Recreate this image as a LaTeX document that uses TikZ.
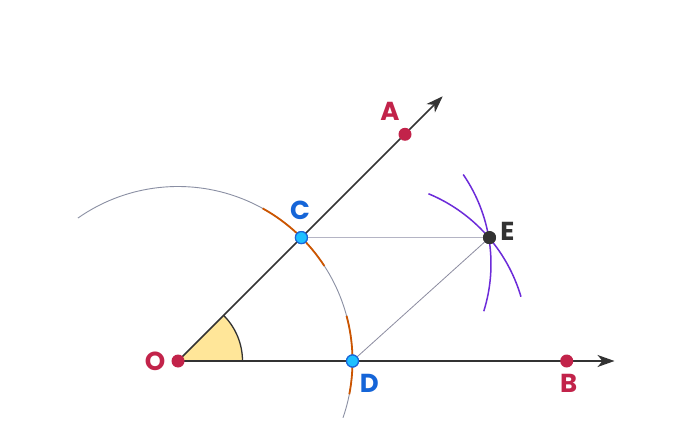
\documentclass[tikz,border=0pt]{standalone}
\usepackage{fontspec}
\newfontfamily\labfont{Poppins}
\usetikzlibrary{arrows.meta}
\definecolor{crim}{HTML}{C2234A}
\definecolor{lblue}{HTML}{1565D8}
\definecolor{cyanf}{HTML}{1EC0FF}
\definecolor{cyand}{HTML}{1A66D9}
\definecolor{dark}{HTML}{333333}
\definecolor{orng}{HTML}{CC5500}
\definecolor{garc}{HTML}{8A8FA3}
\definecolor{gline}{HTML}{B4B4C4}
\definecolor{gline2}{HTML}{8C8CA0}
\definecolor{purp}{HTML}{6C2BD9}
\definecolor{yel}{HTML}{FFE699}
\tikzset{
  reddot/.style={circle,fill=crim,inner sep=0pt,minimum size=13pt},
  bluedot/.style={circle,fill=cyanf,draw=cyand,line width=1.2pt,inner sep=0pt,minimum size=12pt},
  darkdot/.style={circle,fill=dark,inner sep=0pt,minimum size=13pt},
  lab/.style={font=\labfont\bfseries\fontsize{26}{26}\selectfont,inner sep=0pt},
  ray/.style={draw=dark,line width=1.5pt,-{Stealth[length=17pt,width=12pt,inset=5pt]}},
  grayarc/.style={draw=garc,line width=0.9pt},
  orarc/.style={draw=orng,line width=1.8pt},
  puarc/.style={draw=purp,line width=1.5pt},
  thin1/.style={draw=gline,line width=1.1pt},
  thin2/.style={draw=gline2,line width=0.8pt}
}
\begin{document}
\begin{tikzpicture}[x=1pt,y=1pt]
\useasboundingbox[fill=white] (0,0) rectangle (695,442);
\coordinate (Oc) at (178,81);
\coordinate (tipA) at (442.7,345.7);
\coordinate (tipB) at (614.5,81);
% construction arcs
\draw[grayarc] (Oc) ++(-19:174.5) arc[start angle=-19,end angle=125,radius=174.5];
\draw[orarc] (Oc) ++(33:174.5) arc[start angle=33,end angle=61,radius=174.5];
\draw[orarc] (Oc) ++(-11:174.5) arc[start angle=-11,end angle=15,radius=174.5];
\draw[puarc] (333,178) ++(-17.4:158) arc[start angle=-17.4,end angle=34.5,radius=158];
\draw[puarc] (367,100) ++(16.4:160.5) arc[start angle=16.4,end angle=67.5,radius=160.5];
% angle marker
\fill[yel] (Oc) -- ++(0:64.5) arc[start angle=0,end angle=45,radius=64.5] -- cycle;
\draw[dark,line width=1.3pt] (Oc) ++(0:64.5) arc[start angle=0,end angle=45,radius=64.5];
% points
\node[bluedot] (C) at (301.4,204.4) {};
\node[bluedot] (D) at (352.5,81) {};
\node[darkdot] (E) at (489.5,204.4) {};
% thin lines
\draw[thin1] (C.center) -- (E.center);
\draw[thin2] (D.center) -- (E.center);
% rays
\draw[ray] (Oc) -- (tipA);
\draw[ray] (Oc) -- (tipB);
% dots on top
\node[reddot] (O) at (Oc) {};
\node[reddot] (A) at (405,307.7) {};
\node[reddot] (B) at (566.7,81) {};
\node[bluedot] (C2) at (C) {};
\node[bluedot] (D2) at (D) {};
\node[darkdot] (E2) at (E) {};
% labels
\node[lab,text=crim] (Ol) at (155,81) {O};
\node[lab,text=crim] (Al) at (390,330.3) {A};
\node[lab,text=crim] (Bl) at (568.7,58.7) {B};
\node[lab,text=lblue] (Cl) at (300,231.3) {C};
\node[lab,text=lblue] (Dl) at (369.3,58.7) {D};
\node[lab,text=dark] (El) at (507.3,210.3) {E};
\end{tikzpicture}
\end{document}
